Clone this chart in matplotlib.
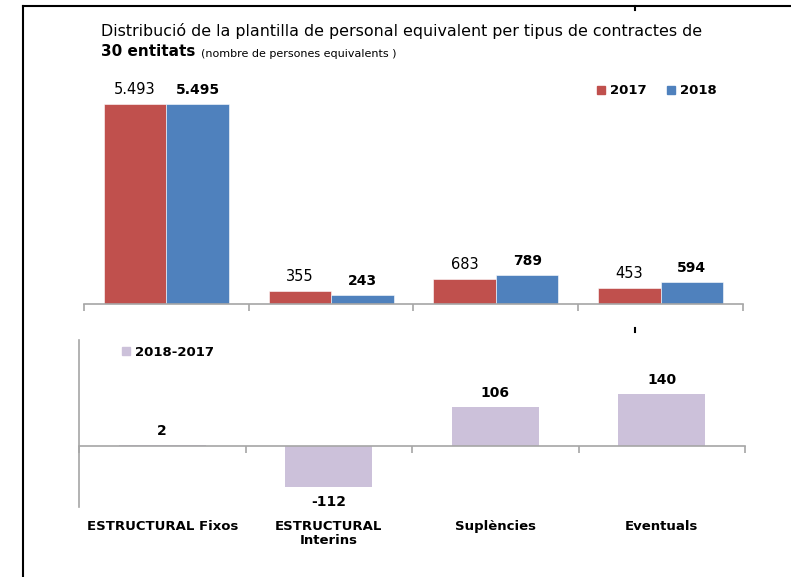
import numpy as np
import matplotlib
matplotlib.use("Agg")
import matplotlib.pyplot as plt
from matplotlib.lines import Line2D
from matplotlib.patches import Patch
from matplotlib.text import Annotation
from matplotlib.transforms import blended_transform_factory

# data
categories = ['ESTRUCTURAL Fixos', 'ESTRUCTURAL\nInterins', 'Suplències', 'Eventuals']
v2017 = [5493, 355, 683, 453]
v2018 = [5495, 243, 789, 594]
diff = [2, -112, 106, 140]

RED = '#C0504D'
BLUE = '#4F81BD'
LILAC = '#CCC1DA'
GREY = '#A6A6A6'

W, H = 791, 577


def fmt(v):
    return f"{v:,}".replace(',', '.')


def fx(px):
    return px / W


def fy(py):
    return 1 - py / H


fig = plt.figure(figsize=(7.91, 5.77), dpi=100)

# outer frame (left and top lines + little marks)
fig.add_artist(Line2D([fx(23), fx(23)], [0, fy(6)], color='black', lw=1.5))
fig.add_artist(Line2D([fx(23), 1], [fy(6), fy(6)], color='black', lw=1.5))
fig.add_artist(Line2D([fx(635), fx(635)], [fy(6), fy(10)], color='black', lw=1.5))
fig.add_artist(Line2D([fx(635), fx(635)], [fy(328), fy(332)], color='black', lw=1.5))

# title
fig.text(fx(101), fy(31), "Distribució de la plantilla de personal equivalent per tipus de contractes de",
         fontsize=11.4, va='center', ha='left')
t2 = fig.text(fx(101), fy(52), "30 entitats", fontsize=11, fontweight='bold', va='center', ha='left')
fig.add_artist(Annotation("(nombre de persones equivalents )", xy=(1, 0), xycoords=t2,
                          xytext=(4, 0.5), textcoords='offset points',
                          fontsize=8, va='bottom', ha='left'))

x = np.arange(len(categories))

# top panel: 2017 vs 2018
ax1 = fig.add_axes([fx(84), fy(304), fx(743) - fx(84), (304 - 70) / H])
bw = 0.38
b1 = ax1.bar(x - bw / 2, v2017, bw, color=RED, edgecolor='white', linewidth=0.4)
b2 = ax1.bar(x + bw / 2, v2018, bw, color=BLUE, edgecolor='white', linewidth=0.4)
ax1.set_xlim(-0.5, 3.5)
ax1.set_ylim(0, 6430)
for rect, v in zip(b1, v2017):
    ax1.annotate(fmt(v), (rect.get_x() + rect.get_width() / 2, rect.get_height()),
                 xytext=(0, 5), textcoords='offset points', ha='center', va='bottom', fontsize=10.5)
for rect, v in zip(b2, v2018):
    ax1.annotate(fmt(v), (rect.get_x() + rect.get_width() / 2, rect.get_height()),
                 xytext=(0, 5), textcoords='offset points', ha='center', va='bottom',
                 fontsize=10, fontweight='bold')
for s in ['top', 'right', 'left']:
    ax1.spines[s].set_visible(False)
ax1.spines['bottom'].set_color(GREY)
ax1.spines['bottom'].set_linewidth(1.2)
ax1.set_yticks([])
ax1.set_xticks(np.arange(-0.5, 4, 1))
ax1.set_xticklabels([])
ax1.tick_params(axis='x', direction='out', length=5, color=GREY, width=1.2)
ax1.patch.set_visible(False)

fig.legend(handles=[Patch(color=RED, label='2017'), Patch(color=BLUE, label='2018')],
           loc='center left', bbox_to_anchor=(fx(597), fy(91)), ncol=2, frameon=False,
           prop={'weight': 'bold', 'size': 9.5}, handlelength=0.6, handleheight=0.6,
           handletextpad=0.35, columnspacing=1.6, borderpad=0, borderaxespad=0)

# bottom panel: difference 2018-2017
ax2 = fig.add_axes([fx(79), fy(507), fx(745) - fx(79), (507 - 340) / H])
b3 = ax2.bar(x, diff, 0.52, color=LILAC)
ax2.set_xlim(-0.5, 3.5)
ax2.set_ylim(-166, 288)
for rect, v in zip(b3, diff):
    cx = rect.get_x() + rect.get_width() / 2
    if v >= 0:
        ax2.annotate(str(v), (cx, v), xytext=(0, 5), textcoords='offset points',
                     ha='center', va='bottom', fontsize=10, fontweight='bold')
    else:
        ax2.annotate(str(v), (cx, v), xytext=(0, -6), textcoords='offset points',
                     ha='center', va='top', fontsize=10, fontweight='bold')
for s in ['top', 'right']:
    ax2.spines[s].set_visible(False)
ax2.spines['left'].set_color(GREY)
ax2.spines['left'].set_linewidth(1.2)
ax2.spines['bottom'].set_position(('data', 0))
ax2.spines['bottom'].set_color(GREY)
ax2.spines['bottom'].set_linewidth(1.2)
ax2.set_yticks([])
ax2.set_xticks(np.arange(-0.5, 4, 1))
ax2.set_xticklabels([])
ax2.tick_params(axis='x', direction='out', length=5, color=GREY, width=1.2)
ax2.patch.set_visible(False)

trans = blended_transform_factory(ax2.transData, fig.transFigure)
for xi, lab in zip(x, categories):
    ax2.text(xi, fy(520), lab, transform=trans, ha='center', va='top',
             fontsize=9.5, fontweight='bold', linespacing=1.1)

fig.legend(handles=[Patch(color=LILAC, label='2018-2017')],
           loc='center left', bbox_to_anchor=(fx(122), fy(352)), frameon=False,
           prop={'weight': 'bold', 'size': 9.5}, handlelength=0.6, handleheight=0.6,
           handletextpad=0.35, borderpad=0, borderaxespad=0)

fig.savefig('out.png', dpi=100)
